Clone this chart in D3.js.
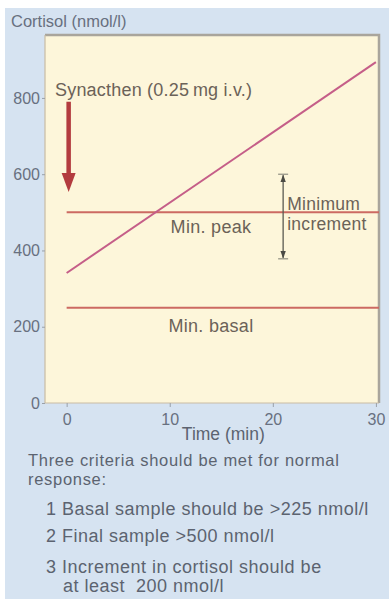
<!DOCTYPE html>
<html>
<head>
<meta charset="utf-8">
<script src="https://cdn.jsdelivr.net/npm/d3@7"></script>
<style>
  body { margin: 0; background: #fff; }
  svg text { font-family: "Liberation Sans", Arial, sans-serif; }
</style>
</head>
<body>
<div id="chart"></div>
<script>
// data
var responseTimes = [0, 30];
var responseCortisol = [341, 894];
var thresholdNames = ["Min. peak", "Min. basal"];
var thresholdValues = [500, 250];
var incrementRange = [378, 600];   // minimum increment bracket
var incrementTime = 21;
var injectionTime = 0;
var injectionRange = [790, 553];   // red arrow, top -> tip
var yTicks = [0, 200, 400, 600, 800];
var xTicks = [0, 10, 20, 30];
var criteriaIntro = ["Three criteria should be met for normal", "response:"];
var criteria = [
  "1 Basal sample should be >225 nmol/l",
  "2 Final sample >500 nmol/l",
  "3 Increment in cortisol should be",
  "at least  200 nmol/l"
];

var W = 389, H = 599;
var margin = {top: 35, right: 10, bottom: 196, left: 45};
var width = W - margin.left - margin.right,
    height = H - margin.top - margin.bottom;

var textCol = "#5c6370";
var labelCol = "#6b6258";

var svg = d3.select("#chart").append("svg")
  .attr("width", W)
  .attr("height", H);

// blue page panel
svg.append("rect")
  .attr("x", 5).attr("y", 8)
  .attr("width", W - 5).attr("height", H - 8)
  .attr("fill", "#d6e3f1");

var g = svg.append("g")
  .attr("transform", "translate(" + margin.left + "," + margin.top + ")");

// Scales
var x = d3.scaleLinear().domain([-2.1, 30.3]).range([0, width]);
var y = d3.scaleLinear().domain([0, 965]).range([height, 0]);

// plot area
g.append("rect")
  .attr("width", width).attr("height", height)
  .attr("fill", "#fdf6da");

// frame: heavier grey top/right, light left/bottom
g.append("path")
  .attr("d", "M0,0H" + width + "V" + height)
  .attr("fill", "none").attr("stroke", "#a9a59c").attr("stroke-width", 2.5);
g.append("path")
  .attr("d", "M0,0V" + height + "H" + width)
  .attr("fill", "none").attr("stroke", "#c9bca3").attr("stroke-width", 1.2);

// Axes
var yAxis = d3.axisLeft(y).tickValues(yTicks).tickSize(3).tickPadding(2);
var xAxis = d3.axisBottom(x).tickValues(xTicks).tickSize(4).tickPadding(3);

var ya = g.append("g").attr("class", "axis y-axis").call(yAxis);
var xa = g.append("g").attr("class", "axis x-axis")
  .attr("transform", "translate(0," + height + ")").call(xAxis);

[ya, xa].forEach(function(a) {
  a.select(".domain").remove();
  a.selectAll("line").attr("stroke", "#9aa0a8");
  a.selectAll("text").attr("fill", "#687080").style("font-size", "16px");
});
xa.selectAll("text").attr("y", 22).attr("dy", 0);

// Axis labels
svg.append("text")
  .attr("x", 11).attr("y", 27)
  .attr("fill", "#687080").style("font-size", "16.5px")
  .text("Cortisol (nmol/l)");

g.append("text")
  .attr("x", x(15.2)).attr("y", height + 37)
  .attr("text-anchor", "middle")
  .attr("fill", textCol).style("font-size", "17.5px")
  .text("Time (min)");

// threshold lines
g.selectAll(".threshold")
  .data(thresholdValues)
  .enter().append("line")
  .attr("class", "threshold")
  .attr("x1", x(0)).attr("x2", width)
  .attr("y1", function(d) { return y(d); })
  .attr("y2", function(d) { return y(d); })
  .attr("stroke", "#cc6a62").attr("stroke-width", 2);

g.selectAll(".threshold-label")
  .data(thresholdNames)
  .enter().append("text")
  .attr("class", "threshold-label")
  .attr("x", x(14.0))
  .attr("y", function(d, i) { return y(thresholdValues[i]) + [21, 24][i]; })
  .attr("text-anchor", "middle")
  .attr("fill", labelCol).style("font-size", "18px").style("letter-spacing", "0.3px")
  .text(function(d) { return d; });

// response line
var line = d3.line()
  .x(function(d, i) { return x(responseTimes[i]); })
  .y(function(d) { return y(d); });

g.append("path")
  .attr("class", "line")
  .attr("d", line(responseCortisol))
  .attr("stroke", "#c55e88").attr("stroke-width", 2)
  .attr("fill", "none");

// Synacthen injection arrow (shaft + head)
var ax = x(injectionTime) + 2,
    aTop = y(injectionRange[0]),
    aTip = y(injectionRange[1]);
g.append("line")
  .attr("x1", ax).attr("x2", ax)
  .attr("y1", aTop).attr("y2", aTip - 15)
  .attr("stroke", "#b33c3f").attr("stroke-width", 4.5);
g.append("path")
  .attr("d", "M" + (ax - 7) + "," + (aTip - 19) + "L" + (ax + 7) + "," + (aTip - 19) +
             "L" + ax + "," + aTip + "Z")
  .attr("fill", "#b33c3f");

g.append("text")
  .attr("x", 10).attr("y", y(805))
  .attr("fill", labelCol).style("font-size", "18px").style("letter-spacing", "0.2px")
  .text("Synacthen (0.25\u2009mg i.v.)");

// minimum increment bracket
svg.append("defs").append("marker")
  .attr("id", "dark-head")
  .attr("viewBox", "0 0 10 10")
  .attr("refX", 9).attr("refY", 5)
  .attr("markerWidth", 6).attr("markerHeight", 6)
  .attr("orient", "auto-start-reverse")
  .append("path").attr("d", "M0,1.5L10,5L0,8.5z").attr("fill", "#4a4a44");

var ix = x(incrementTime);
g.append("line")
  .attr("x1", ix).attr("x2", ix)
  .attr("y1", y(incrementRange[1]) + 1).attr("y2", y(incrementRange[0]) - 1)
  .attr("stroke", "#5a5a52").attr("stroke-width", 1.3)
  .attr("marker-start", "url(#dark-head)")
  .attr("marker-end", "url(#dark-head)");

g.selectAll(".cap")
  .data(incrementRange)
  .enter().append("line")
  .attr("class", "cap")
  .attr("x1", ix - 5).attr("x2", ix + 5)
  .attr("y1", function(d) { return y(d); })
  .attr("y2", function(d) { return y(d); })
  .attr("stroke", "#7a7a70").attr("stroke-width", 1);

g.append("text")
  .attr("y", y(incrementRange[1]) + 36)
  .attr("fill", labelCol).style("font-size", "17.5px").style("letter-spacing", "0.3px")
  .selectAll("tspan")
  .data(["Minimum", "increment"])
  .enter().append("tspan")
  .attr("x", ix + 4)
  .attr("dy", function(d, i) { return i ? 20 : 0; })
  .text(function(d) { return d; });

// criteria text below the chart
svg.selectAll(".intro")
  .data(criteriaIntro)
  .enter().append("text")
  .attr("class", "intro")
  .attr("x", 28)
  .attr("y", function(d, i) { return [466, 485][i]; })
  .attr("fill", textCol).style("font-size", "16.5px").style("letter-spacing", "0.7px")
  .text(function(d) { return d; });

svg.selectAll(".criterion")
  .data(criteria)
  .enter().append("text")
  .attr("class", "criterion")
  .attr("x", function(d, i) { return i === 3 ? 63 : 46; })
  .attr("y", function(d, i) { return [515, 542, 573, 592][i]; })
  .attr("fill", textCol).style("font-size", "18px").style("letter-spacing", "0.5px")
  .attr("xml:space", "preserve")
  .text(function(d) { return d; });
</script>
</body>
</html>
